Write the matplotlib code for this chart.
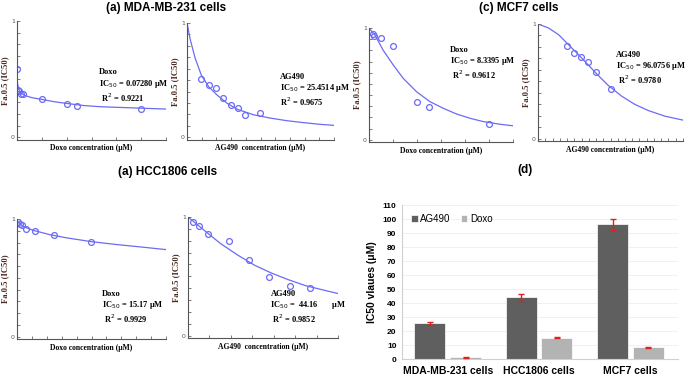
import matplotlib.pyplot as plt
import numpy as np

# Dose-effect panels: x as fraction of axis, y = Fa (0-1)
mda_doxo_pts_x = [0.0, 0.004, 0.011, 0.027, 0.04, 0.168, 0.336, 0.403, 0.832]
mda_doxo_pts_y = [0.59, 0.41, 0.40, 0.375, 0.375, 0.326, 0.288, 0.271, 0.245]
mda_doxo_fit_x = [0.0, 0.01, 0.022, 0.05, 0.1, 0.168, 0.25, 0.336, 0.45, 0.56, 0.78, 1.0]
mda_doxo_fit_y = [0.49, 0.42, 0.385, 0.36, 0.34, 0.325, 0.305, 0.29, 0.272, 0.262, 0.252, 0.242]

mda_ag_pts_x = [0.097, 0.147, 0.199, 0.246, 0.296, 0.345, 0.397, 0.497]
mda_ag_pts_y = [0.513, 0.461, 0.432, 0.342, 0.284, 0.252, 0.191, 0.209]
mda_ag_fit_x = [0.0, 0.023, 0.056, 0.097, 0.147, 0.203, 0.271, 0.339, 0.451, 0.564, 0.677, 0.79, 0.903, 1.0]
mda_ag_fit_y = [1.0, 0.85, 0.69, 0.545, 0.443, 0.371, 0.299, 0.246, 0.197, 0.168, 0.145, 0.128, 0.113, 0.104]

mcf_doxo_pts_x = [0.03, 0.037, 0.081, 0.164, 0.333, 0.416, 0.836]
mcf_doxo_pts_y = [0.95, 0.926, 0.91, 0.84, 0.335, 0.297, 0.139]
mcf_doxo_fit_x = [0.0, 0.042, 0.099, 0.169, 0.238, 0.33, 0.423, 0.515, 0.607, 0.7, 0.792, 0.908, 1.0]
mcf_doxo_fit_y = [1.0, 0.935, 0.80, 0.668, 0.549, 0.43, 0.341, 0.282, 0.231, 0.193, 0.163, 0.139, 0.125]

mcf_ag_pts_x = [0.199, 0.247, 0.297, 0.348, 0.4, 0.501]
mcf_ag_pts_y = [0.806, 0.748, 0.716, 0.667, 0.583, 0.429]
mcf_ag_fit_x = [0.0, 0.073, 0.142, 0.21, 0.279, 0.348, 0.416, 0.485, 0.577, 0.668, 0.76, 0.874, 1.0]
mcf_ag_fit_y = [1.0, 0.965, 0.907, 0.82, 0.733, 0.641, 0.551, 0.464, 0.371, 0.299, 0.246, 0.197, 0.162]

hcc_doxo_pts_x = [0.007, 0.023, 0.032, 0.059, 0.124, 0.247, 0.496]
hcc_doxo_pts_y = [0.975, 0.96, 0.952, 0.916, 0.901, 0.867, 0.806]
hcc_doxo_fit_x = [0.0, 0.04, 0.108, 0.22, 0.332, 0.496, 0.668, 0.825, 1.0]
hcc_doxo_fit_y = [0.985, 0.937, 0.904, 0.867, 0.84, 0.808, 0.783, 0.763, 0.74]

hcc_ag_pts_x = [0.034, 0.07, 0.136, 0.273, 0.407, 0.543, 0.68, 0.814]
hcc_ag_pts_y = [0.958, 0.921, 0.86, 0.794, 0.635, 0.495, 0.415, 0.401]
hcc_ag_fit_x = [0.0, 0.102, 0.216, 0.33, 0.443, 0.557, 0.67, 0.784, 0.92, 1.0]
hcc_ag_fit_y = [1.0, 0.894, 0.777, 0.68, 0.594, 0.527, 0.471, 0.421, 0.379, 0.355]

# Bar chart (d)
cell_lines = ['MDA-MB-231 cells', 'HCC1806 cells', 'MCF7 cells']
ic50_ag490 = [25.45, 44.16, 96.08]
ic50_ag490_err = [1.0, 2.5, 4.2]
ic50_doxo = [1.2, 15.17, 8.34]
ic50_doxo_err = [0.3, 0.5, 0.5]

W, H = 685, 376
fig = plt.figure(figsize=(W / 100, H / 100), dpi=100)


def rect(left, right, top, bottom):
    return [left / W, 1 - bottom / H, (right - left) / W, (bottom - top) / H]


blue = '#6b6bf5'
serif = 'Liberation Serif'
ycol = '#4a2a20'


def dose_panel(r, px, py, fx, fy, drug, label, ntick, txt_xy):
    ax = fig.add_axes(r)
    ax.plot(fx, fy, color=blue, lw=0.9)
    ax.plot(px, py, 'o', mfc='none', mec=blue, ms=4.2, mew=0.9)
    ax.set_xlim(0, 1)
    ax.set_ylim(-0.02, 1.0)
    for s in ['top', 'right']:
        ax.spines[s].set_visible(False)
    for s in ['left', 'bottom']:
        ax.spines[s].set_color('#555555')
        ax.spines[s].set_linewidth(0.8)
    ax.set_yticks([0, 1])
    ax.set_yticklabels(['0', '1'])
    ax.set_yticks(np.linspace(0, 1, 11), minor=True)
    ax.set_xticks(np.linspace(0, 1, ntick + 1)[1:])
    ax.set_xticklabels([])
    ax.tick_params(axis='both', which='both', direction='in', length=2, width=0.6,
                   color='#666666', labelsize=4.5, labelcolor='#555555', pad=1.5)
    ax.set_xlabel(drug + ' concentration (\u03bcM)', family=serif, weight='bold',
                  fontsize=5.5, labelpad=2)
    ax.set_ylabel('Fa.0.5 (IC50)', family=serif, weight='bold', fontsize=6.2,
                  color=ycol, labelpad=1)
    ax.text(txt_xy[0], txt_xy[1], label, transform=ax.transAxes, family=serif,
            weight='bold', fontsize=6, va='top', linespacing=1.15)
    return ax


dose_panel(rect(17, 166, 21, 139.5), mda_doxo_pts_x, mda_doxo_pts_y,
           mda_doxo_fit_x, mda_doxo_fit_y, 'Doxo',
           'Doxo\nIC$_{50}$ = 0.07280 \u03bcM\n R$^2$ = 0.9221', 6, (0.55, 0.60))
dose_panel(rect(187, 334, 23, 139.5), mda_ag_pts_x, mda_ag_pts_y,
           mda_ag_fit_x, mda_ag_fit_y, 'AG490 ',
           'AG490\nIC$_{50}$ = 25.4514 \u03bcM\nR$^2$ = 0.9675', 10, (0.63, 0.57))
dose_panel(rect(369, 513, 28, 142), mcf_doxo_pts_x, mcf_doxo_pts_y,
           mcf_doxo_fit_x, mcf_doxo_fit_y, 'Doxo',
           'Doxo\nIC$_{50}$ = 8.3395 \u03bcM\n R$^2$ = 0.9612', 6, (0.56, 0.84))
dose_panel(rect(538, 683, 24, 141), mcf_ag_pts_x, mcf_ag_pts_y,
           mcf_ag_fit_x, mcf_ag_fit_y, 'AG490',
           'AG490\nIC$_{50}$ = 96.0756 \u03bcM\n R$^2$ = 0.9780', 20, (0.54, 0.77))
dose_panel(rect(17, 166, 219, 339), hcc_doxo_pts_x, hcc_doxo_pts_y,
           hcc_doxo_fit_x, hcc_doxo_fit_y, 'Doxo',
           'Doxo\nIC$_{50}$ = 15.17 \u03bcM\n R$^2$ = 0.9929', 10, (0.57, 0.41))
dose_panel(rect(188, 338, 217, 338), hcc_ag_pts_x, hcc_ag_pts_y,
           hcc_ag_fit_x, hcc_ag_fit_y, 'AG490 ',
           'AG490\nIC$_{50}$ =  44.16       \u03bcM\n R$^2$ = 0.9852', 7, (0.55, 0.40))

# Panel titles
tkw = dict(family='Liberation Sans', weight='bold', fontsize=8.5, ha='center', va='center')
fig.text(166 / W, 1 - 8 / H, '(a) MDA-MB-231 cells', **tkw)
fig.text(519 / W, 1 - 8 / H, '(c) MCF7 cells', **tkw)
fig.text(168 / W, 1 - 172 / H, '(a) HCC1806 cells', **tkw)
fig.text(525 / W, 1 - 170 / H, '(d)', **tkw)

# Bar chart
axb = fig.add_axes(rect(402, 678, 205, 359))
x = np.arange(len(cell_lines))
bw = 0.34
off = 0.195
axb.bar(x - off, ic50_ag490, bw, color='#5f5f5f', edgecolor='white', lw=0.5,
        label='AG490', zorder=2)
axb.bar(x + off, ic50_doxo, bw, color='#b3b3b3', edgecolor='white', lw=0.5,
        label='Doxo', zorder=2)
axb.errorbar(x - off, ic50_ag490, yerr=ic50_ag490_err, fmt='none', ecolor='#e0201b',
             elinewidth=1.0, capsize=2, capthick=1.0, zorder=3)
axb.errorbar(x + off, ic50_doxo, yerr=ic50_doxo_err, fmt='none', ecolor='#e0201b',
             elinewidth=1.0, capsize=2, capthick=1.0, zorder=3)
axb.set_xlim(-0.5, 2.52)
axb.set_ylim(0, 110)
axb.set_yticks(np.arange(0, 111, 10))
axb.set_xticks(x)
axb.set_xticklabels(cell_lines, family='Liberation Sans', weight='bold', fontsize=7.5)
for lab in axb.get_yticklabels():
    lab.set_family('Liberation Sans')
    lab.set_weight('bold')
axb.tick_params(axis='y', length=0, labelsize=6, pad=4)
axb.tick_params(axis='x', length=0, pad=5)
axb.grid(axis='y', color='#eeeeee', lw=0.6, zorder=0)
for s in ['top', 'right']:
    axb.spines[s].set_visible(False)
axb.spines['left'].set_color('#d0d0d0')
axb.spines['bottom'].set_color('#d0d0d0')
axb.set_ylabel('IC50 vlaues (\u03bcM)', family='Liberation Sans', weight='bold',
               fontsize=7.5, labelpad=4)
axb.legend(loc='upper left', ncol=2, frameon=False, handlelength=0.7, handleheight=0.7,
           handletextpad=0.3, columnspacing=1.0, bbox_to_anchor=(0.0, 1.0),
           prop={'family': 'Liberation Sans', 'size': 7})

fig.savefig('out.png', dpi=100)
